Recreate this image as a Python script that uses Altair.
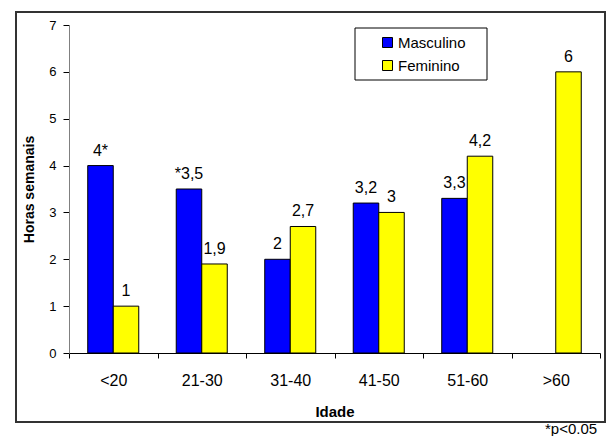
import altair as alt
import pandas as pd

idade = ["<20", "21-30", "31-40", "41-50", "51-60", ">60"]
masculino = [4, 3.5, 2, 3.2, 3.3, None]
feminino = [1, 1.9, 2.7, 3, 4.2, 6]
rot_masc = ["4*", "*3,5", "2", "3,2", "3,3", ""]
rot_fem = ["1", "1,9", "2,7", "3", "4,2", "6"]
series = ["Masculino", "Feminino"]
colors = ["#0000FF", "#FFFF00"]
y_ticks = [0, 1, 2, 3, 4, 5, 6, 7]

rows = []
for i, cat in enumerate(idade):
    rows.append({"Idade": cat, "Sexo": series[0], "Horas": masculino[i], "Rotulo": rot_masc[i]})
    rows.append({"Idade": cat, "Sexo": series[1], "Horas": feminino[i], "Rotulo": rot_fem[i]})
df = pd.DataFrame(rows)

FONT = "Liberation Sans"
W, H = 531, 328

x = alt.X(
    "Idade:N", sort=idade,
    scale=alt.Scale(paddingInner=0, paddingOuter=0),
    axis=alt.Axis(title="Idade", labelAngle=0, tickBand="extent", domainColor="#000",
                  tickColor="#000", tickSize=5, labelPadding=14, labelFontSize=16,
                  titleFontSize=15, titleFontWeight="bold", titlePadding=16,
                  labelColor="#000", titleColor="#000", labelFont=FONT, titleFont=FONT),
)
xo = alt.XOffset("Sexo:N", sort=series, scale=alt.Scale(paddingInner=0, paddingOuter=0.735))
y = alt.Y(
    "Horas:Q", scale=alt.Scale(domain=[0, 7]),
    axis=alt.Axis(values=y_ticks, title="Horas semanais", grid=False, domainColor="#808080",
                  tickColor="#000", tickSize=6, labelPadding=7, labelFontSize=13,
                  titleFontSize=14, titleFontWeight="bold", titlePadding=12,
                  labelColor="#000", titleColor="#000", labelFont=FONT, titleFont=FONT),
)

base = alt.Chart(df)

bars = base.mark_bar(stroke="#000", strokeWidth=1).encode(
    x=x, xOffset=xo, y=y,
    color=alt.Color(
        "Sexo:N", sort=series, scale=alt.Scale(domain=series, range=colors),
        legend=alt.Legend(orient="none", legendX=311, legendY=10, title=None,
                          symbolType="square", symbolSize=100, symbolStrokeColor="#000",
                          symbolStrokeWidth=1, symbolOpacity=1, labelFontSize=15,
                          labelFont=FONT, labelColor="#000", rowPadding=7, labelOffset=3,
                          padding=0),
    ),
)

labels = base.mark_text(baseline="alphabetic", dy=-10, fontSize=16, font=FONT, color="#000").encode(
    x=x, xOffset=xo, y=y, text="Rotulo:N"
)

one = pd.DataFrame({"k": [0]})
border = alt.Chart(one).mark_rect(fillOpacity=0, stroke="#333", strokeWidth=2).encode(
    x=alt.value(-53), x2=alt.value(536), y=alt.value(-13), y2=alt.value(397)
)
legend_box = alt.Chart(one).mark_rect(fillOpacity=0, stroke="#000", strokeWidth=1).encode(
    x=alt.value(286), x2=alt.value(418), y=alt.value(3), y2=alt.value(55)
)
footnote = alt.Chart(one).mark_text(align="left", baseline="alphabetic", fontSize=15,
                                    font=FONT, color="#000").encode(
    x=alt.value(476), y=alt.value(409), text=alt.value("*p<0.05")
)

chart = alt.layer(border, bars, labels, legend_box, footnote).properties(
    width=W, height=H,
    autosize=alt.AutoSizeParams(type="none"),
    padding={"left": 61, "top": 17, "right": 6, "bottom": 83},
).configure_view(stroke=None)

chart.save("out.html", embed_options={"renderer": "svg", "actions": False})
